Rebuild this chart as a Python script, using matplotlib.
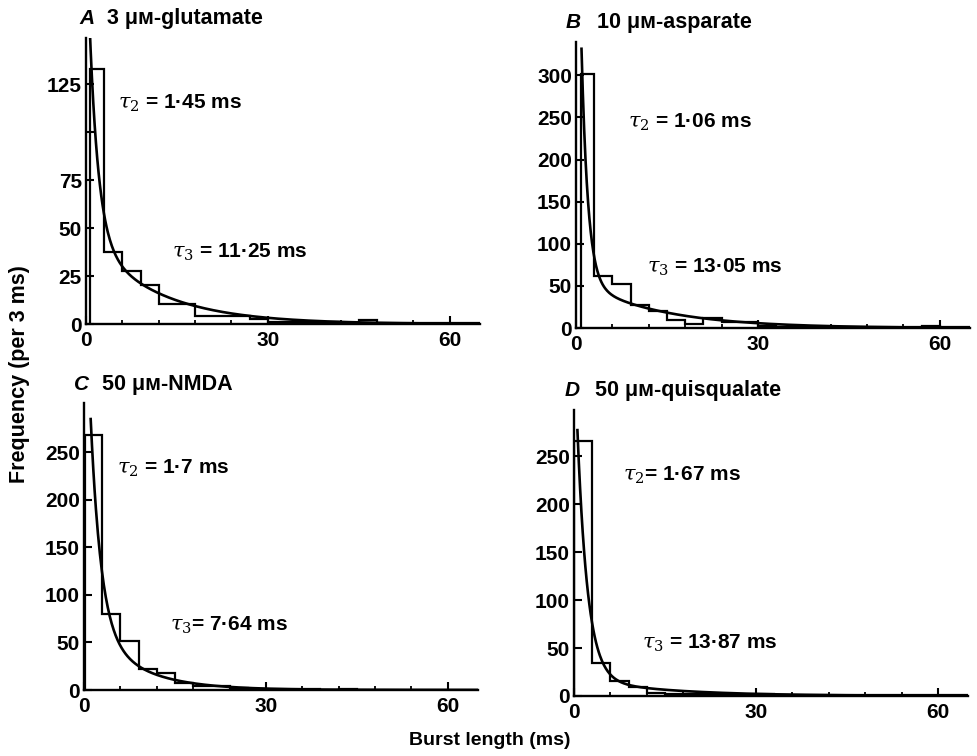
import numpy as np
import matplotlib
matplotlib.use("Agg")
import matplotlib.pyplot as plt
from matplotlib.ticker import MultipleLocator

plt.rcParams['font.family'] = ['Liberation Sans', 'DejaVu Sans']
plt.rcParams['mathtext.fontset'] = 'dejavuserif'

# histogram bins are 3 ms wide, 0..66 ms
bin_edges = [0, 3, 6, 9, 12, 15, 18, 21, 24, 27, 30, 33, 36, 39, 42, 45, 48, 51, 54, 57, 60, 63, 66]

# A: 3 uM glutamate
glu_counts = [133, 37.6, 27.6, 20.3, 10.4, 10.4, 4.2, 4.2, 4.2, 2.4, 1.0, 1.0,
              0.8, 0.8, 0.6, 2.2, 0.5, 0.4, 0.4, 0.3, 0.3, 0.3]
glu_first_edge = 0.7
glu_taus = [1.45, 11.25]
glu_amps = [169, 46.5]
glu_fit_start = 0.55

# B: 10 uM aspartate
asp_counts = [301, 62, 52, 27, 20, 10, 5, 11.6, 7.6, 7.6, 2.5, 1.5,
              1.5, 1.5, 1.5, 1.0, 1.0, 1.0, 1.0, 2.0, 1.0, 0.8]
asp_first_edge = 0.9
asp_taus = [1.06, 13.05]
asp_amps = [648, 58]
asp_fit_start = 0.9

# C: 50 uM NMDA
nmda_counts = [268, 80, 51, 22, 17.6, 7, 4.2, 4.2, 2.0, 1.0, 1.0, 1.5,
               1.0, 0.5, 1.0, 0.5, 0.5, 0.5, 0.3, 0.3, 0.3, 0.3]
nmda_first_edge = 0.2
nmda_taus = [1.7, 7.64]
nmda_amps = [420, 75]
nmda_fit_start = 1.1

# D: 50 uM quisqualate
quis_counts = [266, 34, 16, 9, 3, 2.5, 2, 2.5, 1.5, 1.5, 2, 1.5,
               1, 1, 1, 1, 1, 0.8, 0.8, 0.8, 0.5, 0.5]
quis_first_edge = 0.0
quis_taus = [1.67, 13.87]
quis_amps = [360, 19]
quis_fit_start = 0.55


def fit_curve(t, amps, taus):
    "two exponential components of the burst length fit"
    return amps[0]*np.exp(-t/taus[0]) + amps[1]*np.exp(-t/taus[1])


def draw_panel(ax, counts, first_edge, amps, taus, fit_start, ytop, yticks, ylabels):
    edges = list(bin_edges)
    edges[0] = first_edge
    ax.stairs(counts, edges, baseline=0, color='black', lw=1.6)
    t = np.linspace(fit_start, 66, 600)
    ax.plot(t, fit_curve(t, amps, taus), color='black', lw=1.9)

    ax.set_xlim(0, 65)
    ax.set_ylim(0, ytop)
    for side in ['top', 'right']:
        ax.spines[side].set_visible(False)
    for side in ['left', 'bottom']:
        ax.spines[side].set_linewidth(1.7)

    ax.set_xticks([0, 30, 60])
    ax.xaxis.set_minor_locator(MultipleLocator(6))
    ax.set_yticks(yticks)
    ax.set_yticklabels(ylabels)
    ax.tick_params(axis='both', which='major', direction='in', length=6, width=1.5,
                   labelsize=15, pad=3)
    ax.tick_params(axis='x', which='minor', direction='in', length=3, width=1.3)
    ax.tick_params(axis='x', which='major', pad=5)
    for lab in ax.get_xticklabels() + ax.get_yticklabels():
        lab.set_fontweight('bold')


fig = plt.figure(figsize=(9.78, 7.56), dpi=100)

axA = fig.add_axes([0.0879, 0.5714, 0.403, 0.378])
draw_panel(axA, glu_counts, glu_first_edge, glu_amps, glu_taus, glu_fit_start, 149,
           [0, 25, 50, 75, 100, 125], ['0', '25', '50', '75', '', '125'])

axB = fig.add_axes([0.589, 0.566, 0.403, 0.378])
draw_panel(axB, asp_counts, asp_first_edge, asp_amps, asp_taus, asp_fit_start, 339,
           [0, 50, 100, 150, 200, 250, 300], ['0', '50', '100', '150', '200', '250', '300'])

axC = fig.add_axes([0.0859, 0.0873, 0.403, 0.380])
draw_panel(axC, nmda_counts, nmda_first_edge, nmda_amps, nmda_taus, nmda_fit_start, 302,
           [0, 50, 100, 150, 200, 250], ['0', '50', '100', '150', '200', '250'])

axD = fig.add_axes([0.587, 0.0794, 0.403, 0.378])
draw_panel(axD, quis_counts, quis_first_edge, quis_amps, quis_taus, quis_fit_start, 298,
           [0, 50, 100, 150, 200, 250], ['0', '50', '100', '150', '200', '250'])

# panel titles
titles = [("A", 0.089, 0.976, "3 \u03bc\u1d0d-glutamate", 0.1094),
          ("B", 0.586, 0.970, "10 \u03bc\u1d0d-asparate", 0.6104),
          ("C", 0.0838, 0.491, "50 \u03bc\u1d0d-NMDA", 0.1043),
          ("D", 0.585, 0.484, "50 \u03bc\u1d0d-quisqualate", 0.6084)]
for letter, lx, ly, name, nx in titles:
    fig.text(lx, ly, letter, fontsize=15, style='italic', fontweight='bold',
             ha='center', va='center')
    fig.text(nx, ly, name, fontsize=15.5, fontweight='bold', ha='left', va='center')

# time constants
notes = [(0.1207, 0.8638, r"$\tau_2$ = 1·45 ms"), (0.1759, 0.6667, r"$\tau_3$ = 11·25 ms"),
         (0.6421, 0.8386, r"$\tau_2$ = 1·06 ms"), (0.6616, 0.6468, r"$\tau_3$ = 13·05 ms"),
         (0.1196, 0.3810, r"$\tau_2$ = 1·7 ms"), (0.1738, 0.1733, r"$\tau_3$= 7·64 ms"),
         (0.6370, 0.3717, r"$\tau_2$= 1·67 ms"), (0.6564, 0.1495, r"$\tau_3$ = 13·87 ms")]
for x, y, s in notes:
    fig.text(x, y, s, fontsize=15, fontweight='bold', ha='left', va='center')

fig.text(0.0204, 0.505, "Frequency (per 3 ms)", fontsize=15.5, fontweight='bold',
         rotation=90, ha='center', va='center')
fig.text(0.501, 0.021, "Burst length (ms)", fontsize=14, fontweight='bold',
         ha='center', va='center')

fig.savefig("out.png", dpi=100)
